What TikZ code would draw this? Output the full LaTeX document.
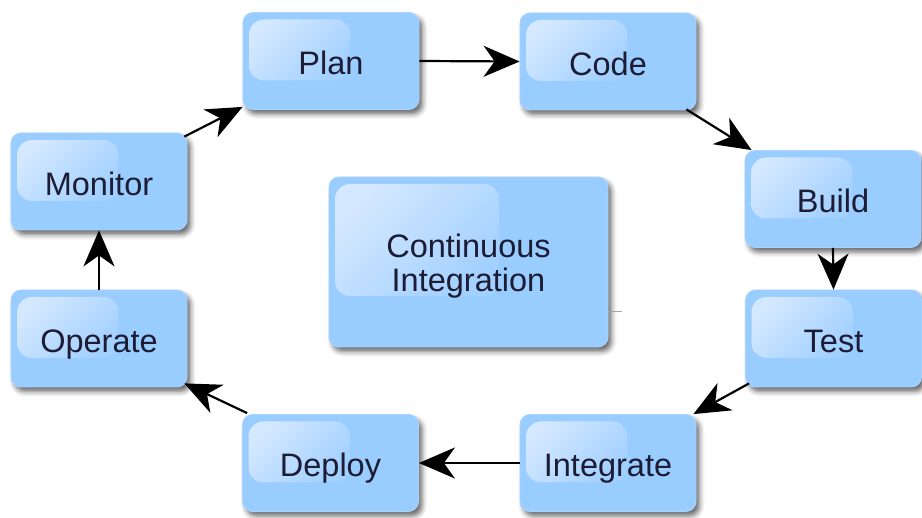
\documentclass[tikz,border=0pt]{standalone}
\usepackage{fontspec}
\setmainfont{Liberation Sans}
\usetikzlibrary{arrows.meta,calc,shadows.blur}

\definecolor{boxblue}{HTML}{99CCFF}
\definecolor{boxedge}{HTML}{A8D3FF}
\definecolor{glossTop}{HTML}{D4E8FF}
\definecolor{glossBot}{HTML}{A2D0FF}
\definecolor{labelink}{HTML}{1C1C34}

\tikzset{
  % light-blue rounded card with a glossy patch in its upper-left part
  card/.style={
    rounded corners=10pt, fill=boxblue, draw=boxedge, line width=0.8pt,
    inner sep=0pt, text=labelink, font=\fontsize{32.5}{32}\selectfont,
    blur shadow={shadow xshift=3.5pt, shadow yshift=-4.5pt,
                 shadow blur radius=5pt, shadow opacity=60},
    path picture={
      \coordinate (gA) at ($(path picture bounding box.north west)+(6pt,-7pt)$);
      \coordinate (gX) at ($(path picture bounding box.north west)!0.61!(path picture bounding box.north east)$);
      \coordinate (gY) at ($(path picture bounding box.north west)!0.70!(path picture bounding box.south west)$);
      \shade[rounded corners=15pt, top color=glossTop, bottom color=glossBot,
             shading angle=45] (gA) rectangle (gX |- gY);
    }
  },
  stagebox/.style={card, minimum width=176pt, minimum height=97pt,
    text height=30pt, text depth=2pt},
  centerbox/.style={card, minimum width=279pt, minimum height=170pt,
    align=center},
  flow/.style={line width=2.2pt, draw=black,
    -{Stealth[length=36pt, width=31pt, inset=11pt]}}
}

\begin{document}
\begin{tikzpicture}[x=1pt, y=-1pt]
  \useasboundingbox (0,0) rectangle (922,518);

  % stages of the cycle
  \node[stagebox] (plan)      at (331,61)    {Plan};
  \node[stagebox] (code)      at (608,61.5)  {Code};
  \node[stagebox] (build)     at (833,199)   {Build};
  \node[stagebox] (test)      at (833.5,338.5) {Test};
  \node[stagebox] (integrate) at (608,463)   {Integrate};
  \node[stagebox] (deploy)    at (330.5,463) {Deploy};
  \node[stagebox] (operate)   at (99,338.5)  {Operate};
  \node[stagebox] (monitor)   at (99,181.5)  {Monitor};

  % hub in the middle (the strut lowers the two lines a little)
  \node[centerbox] (hub) at (468.5,262) {\rule{0pt}{31pt}Continuous\\[2pt]Integration};
  \draw[gray!70, line width=1pt] ([yshift=-50pt]hub.east) -- ++(14,0);

  % connectors around the loop
  \draw[flow] (plan.east) -- (code.west);
  \draw[flow] ([xshift=-10pt,yshift=1pt]code.south east) -- ([xshift=7pt]build.north west);
  \draw[flow] (build.south) -- (test.north);
  \draw[flow] ([xshift=4pt,yshift=4pt]test.south west) -- ([xshift=-3pt]integrate.north east);
  \draw[flow] (integrate.west) -- (deploy.east);
  \draw[flow] ([xshift=5pt,yshift=1pt]deploy.north west) -- ([xshift=-3pt,yshift=4pt]operate.south east);
  \draw[flow] (operate.north) -- (monitor.south);
  \draw[flow] ([xshift=-3pt,yshift=-4pt]monitor.north east) -- ([yshift=3pt]plan.south west);
\end{tikzpicture}
\end{document}
